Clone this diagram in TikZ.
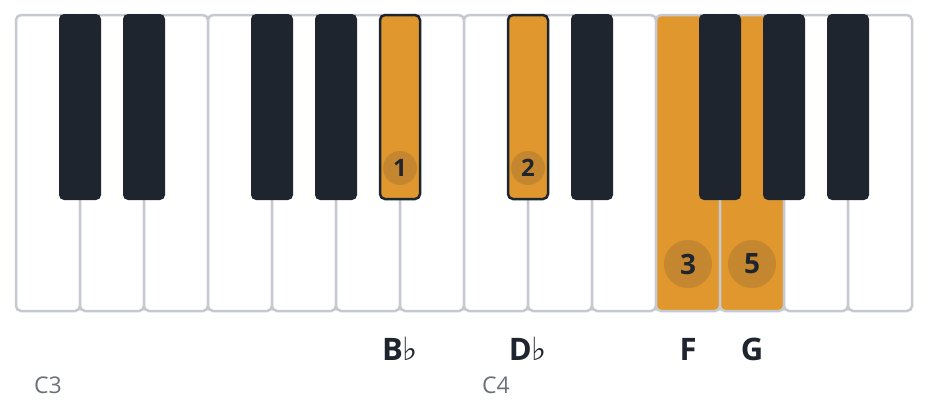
\documentclass[tikz,border=0pt]{standalone}
\usepackage{fontspec}
\setmainfont{Open Sans}
\newfontfamily\symfont{DejaVu Sans}
\definecolor{keyborder}{HTML}{C6C9D0}
\definecolor{blackkey}{HTML}{1F252E}
\definecolor{hl}{HTML}{E0982E}
\definecolor{circ}{HTML}{C4862F}
\definecolor{txt}{HTML}{1F252E}
\definecolor{octave}{HTML}{6B7079}
\tikzset{
  whitekey/.style={draw=keyborder, line width=2.5pt, fill=white, rounded corners=5pt,
    minimum width=64pt, minimum height=296pt, inner sep=0pt, outer sep=0pt},
  hlwhite/.style={whitekey, fill=hl},
  blackkeybox/.style={fill=blackkey, rounded corners=5pt, draw=none,
    minimum width=42pt, minimum height=186pt, inner sep=0pt, outer sep=0pt},
  hlblack/.style={fill=hl, draw=blackkey, line width=2.5pt, rounded corners=5pt,
    minimum width=40pt, minimum height=184pt, inner sep=0pt, outer sep=0pt},
  smallcirc/.style={circle, fill=circ, minimum size=34pt, inner sep=0pt,
    text=txt, font=\fontsize{24}{28}\selectfont\bfseries},
  bigcirc/.style={circle, fill=circ, minimum size=48pt, inner sep=0pt,
    text=txt, font=\fontsize{28}{32}\selectfont\bfseries},
  notelabel/.style={text=txt, font=\fontsize{31}{36}\selectfont\bfseries, inner sep=0pt},
  octlabel/.style={text=octave, font=\fontsize{23}{28}\selectfont, inner sep=0pt},
}
\newcommand{\flatsign}{{\symfont\mdseries\fontsize{32}{36}\selectfont ♭}}
\begin{document}
\begin{tikzpicture}[x=1pt,y=-1pt]
\useasboundingbox (0,0) rectangle (928,410);
% white keys
\foreach \i in {0,...,13} {
  \pgfmathsetmacro{\cx}{48+64*\i}
  \ifnum\i=10
    \node[hlwhite] (w\i) at (\cx,163) {};
  \else\ifnum\i=11
    \node[hlwhite] (w\i) at (\cx,163) {};
  \else
    \node[whitekey] (w\i) at (\cx,163) {};
  \fi\fi
}
% black keys
\foreach \b/\x in {cs3/80, ds3/144, fs3/272, gs3/336, ds4/592, fs4/720, gs4/784, as4/848} {
  \node[blackkeybox] (\b) at (\x,107) {};
}
\node[hlblack] (as3) at (400,107) {};
\node[hlblack] (cs4) at (528,107) {};
% finger circles
\node[smallcirc] (f1) at (400,168) {1};
\node[smallcirc] (f2) at (528,168) {2};
\node[bigcirc] (f3) at (688,264) {3};
\node[bigcirc] (f5) at (752,264) {5};
% note labels
\node[notelabel] (lb) at (400,349) {B\flatsign};
\node[notelabel] (ld) at (528,349) {D\flatsign};
\node[notelabel] (lf) at (688,349) {F};
\node[notelabel] (lg) at (752,349) {G};
% octave labels
\node[octlabel] (c3) at (48,385) {C3};
\node[octlabel] (c4) at (496,385) {C4};
\end{tikzpicture}
\end{document}
